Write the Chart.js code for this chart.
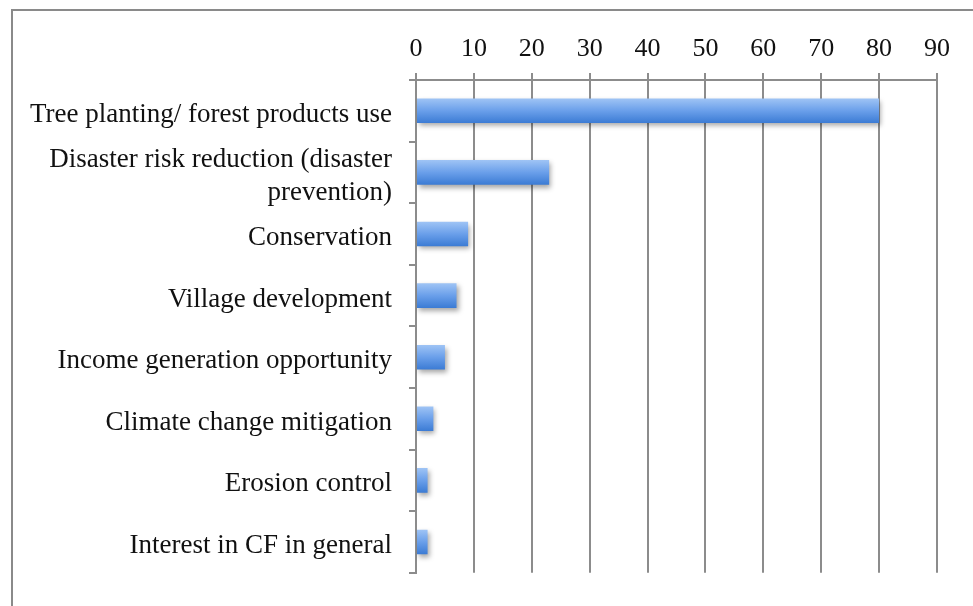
<!DOCTYPE html>
<html>
<head>
<meta charset="utf-8">
<script src="https://cdn.jsdelivr.net/npm/chart.js@4/dist/chart.umd.min.js"></script>
<style>
  html, body { margin: 0; padding: 0; background: #fff; }
  #wrap { position: relative; width: 973px; height: 606px; overflow: hidden; }
  #frame { position: absolute; left: 11px; top: 9px; width: 980px; height: 620px;
           border-left: 2px solid #8a8a8a; border-top: 2px solid #8a8a8a; }
  canvas { position: absolute; left: 0; top: 0; }
</style>
</head>
<body>
<div id="wrap">
  <div id="frame"></div>
  <canvas id="chart" width="973" height="606"></canvas>
</div>
<script>
const categories = [
  "Tree planting/ forest products use",
  ["Disaster risk reduction (disaster", "prevention)"],
  "Conservation",
  "Village development",
  "Income generation opportunity",
  "Climate change mitigation",
  "Erosion control",
  "Interest in CF in general",
];
const values = [80, 23, 9, 7, 5, 3, 2, 2];
const xTicks = [0, 10, 20, 30, 40, 50, 60, 70, 80, 90];

const AXIS_GRAY = "#8c8c8c";
const BAR_PCT = 0.4;

function barGradient(ctx) {
  const chart = ctx.chart;
  const area = chart.chartArea;
  const y = chart.scales.y;
  if (!area || !y || ctx.dataIndex === undefined) return "#5b93e3";
  const center = y.getPixelForValue(ctx.dataIndex);
  const half = (area.bottom - area.top) / categories.length * BAR_PCT / 2;
  const g = chart.ctx.createLinearGradient(0, center - half, 0, center + half);
  g.addColorStop(0, "#9fc4f5");
  g.addColorStop(0.5, "#6a9fea");
  g.addColorStop(1, "#3b7bd4");
  return g;
}

const shadowPlugin = {
  id: "barShadow",
  beforeDatasetsDraw(chart) {
    const c = chart.ctx;
    c.save();
    c.shadowColor = "rgba(0,0,0,0.35)";
    c.shadowBlur = 5;
    c.shadowOffsetX = 2;
    c.shadowOffsetY = 3;
  },
  afterDatasetsDraw(chart) {
    chart.ctx.restore();
  },
};

new Chart(document.getElementById("chart"), {
  type: "bar",
  data: {
    labels: categories,
    datasets: [{
      data: values,
      backgroundColor: barGradient,
      borderWidth: 0,
      categoryPercentage: 1,
      barPercentage: BAR_PCT,
    }],
  },
  options: {
    indexAxis: "y",
    responsive: false,
    animation: false,
    layout: { padding: { top: 0, left: 0, right: 36, bottom: 27 } },
    plugins: { legend: { display: false }, tooltip: { enabled: false } },
    scales: {
      x: {
        position: "top",
        min: 0,
        max: 90,
        afterBuildTicks(scale) { scale.ticks = xTicks.map((v) => ({ value: v })); },
        afterFit(scale) { scale.height = 80; },
        ticks: {
          color: "#111",
          padding: 8,
          maxRotation: 0,
          font: { family: "Liberation Serif", size: 26 },
        },
        grid: { color: AXIS_GRAY, lineWidth: 2, tickLength: 7 },
        border: { color: AXIS_GRAY, width: 2 },
      },
      y: {
        afterFit(scale) { scale.width = 416; },
        ticks: {
          color: "#111",
          padding: 17,
          labelOffset: 4,
          autoSkip: false,
          font: { family: "Liberation Serif", size: 27, lineHeight: 1.2 },
        },
        grid: { color: AXIS_GRAY, lineWidth: 2, tickLength: 7, offset: true, drawOnChartArea: false },
        border: { color: AXIS_GRAY, width: 2 },
      },
    },
  },
  plugins: [shadowPlugin],
});
</script>
</body>
</html>
